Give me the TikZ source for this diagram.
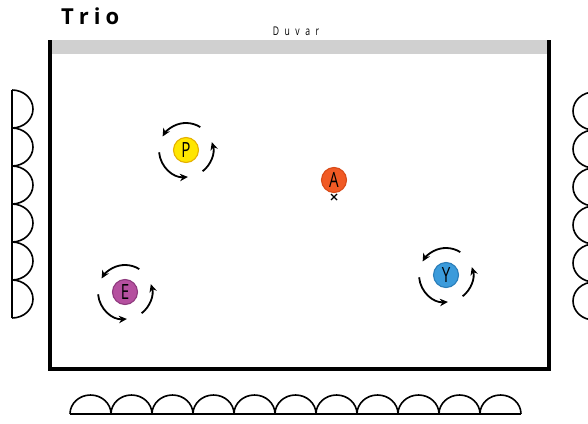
\documentclass[tikz,border=0pt]{standalone}
\usepackage{fontspec}
\setmainfont{Open Sans}
\newfontfamily\condfont[FakeStretch=0.72]{Open Sans}
\usetikzlibrary{arrows.meta,calc}
\definecolor{wallgray}{HTML}{D0D0D0}
\definecolor{pyel}{HTML}{FFE600}
\definecolor{pyelb}{HTML}{E5B000}
\definecolor{aorg}{HTML}{F15A24}
\definecolor{aorgb}{HTML}{D84A18}
\definecolor{epur}{HTML}{B5509F}
\definecolor{epurb}{HTML}{8E3A7E}
\definecolor{yblu}{HTML}{3B9BDB}
\definecolor{yblub}{HTML}{2A7DB8}
\tikzset{
  player/.style={circle, minimum size=25pt, inner sep=0pt, line width=1.1pt, font=\condfont\fontsize{21}{21}\selectfont},
  rot/.style={line width=1.8pt, -{Stealth[length=8pt,width=7.5pt]}},
  bump/.style={line width=1.6pt},
  frame/.style={line width=4pt},
}
\newcommand{\rotarrows}[1]{%
  \draw[rot] ($(#1)+(-58:27)$) arc[start angle=-58, end angle=-150, radius=27];
  \draw[rot] ($(#1)+(175:27)$) arc[start angle=175, end angle=86, radius=27];
  \draw[rot] ($(#1)+(52:27)$) arc[start angle=52, end angle=-17, radius=27];
}
\begin{document}
\begin{tikzpicture}[x=1pt,y=-1pt]
\useasboundingbox (0,0) rectangle (588,423);
% title
\node[anchor=base west, inner sep=0pt, font=\bfseries\fontsize{22}{22}\selectfont] (title) at (61,24) {T\hspace{5pt}r\hspace{5pt}i\hspace{5pt}o};
% wall
\fill[wallgray] (52,40) rectangle (547,54);
\node[anchor=base, inner sep=0pt, font=\condfont\fontsize{12}{12}\selectfont] (duvar) at (296,35.5) {D\hspace{5.5pt}u\hspace{5.5pt}v\hspace{5.5pt}a\hspace{5.5pt}r};
% frame
\draw[frame] (50,40) -- (50,369) -- (549,369) -- (549,40);
% left bumps
\draw[bump] (12,90) -- (12,318);
\foreach \i in {0,...,5} {
  \draw[bump] (12,90+38*\i) arc[start angle=-90, end angle=90, x radius=21, y radius=19];
}
% right bumps
\foreach \i in {0,...,5} {
  \draw[bump] (594,92+38*\i) arc[start angle=-90, end angle=-270, x radius=21, y radius=19];
}
% bottom bumps
\draw[bump] (70,414) -- (521,414);
\foreach \i in {0,...,10} {
  \draw[bump] (70+41*\i,414) arc[start angle=180, end angle=360, x radius=20.5, y radius=19];
}
% players
\node[player, fill=pyel, draw=pyelb] (P) at (186,150) {P};
\node[player, fill=aorg, draw=aorgb] (A) at (334,180) {A};
\node[player, fill=epur, draw=epurb] (E) at (125,292) {E};
\node[player, fill=yblu, draw=yblub] (Y) at (446,275) {Y};
% x mark
\coordinate (xm) at (334,197);
\draw[line width=1.4pt] ($(xm)+(-3,-3)$) -- ($(xm)+(3,3)$);
\draw[line width=1.4pt] ($(xm)+(-3,3)$) -- ($(xm)+(3,-3)$);
% rotation arrows
\rotarrows{P}
\rotarrows{E}
\rotarrows{Y}
\end{tikzpicture}
\end{document}
